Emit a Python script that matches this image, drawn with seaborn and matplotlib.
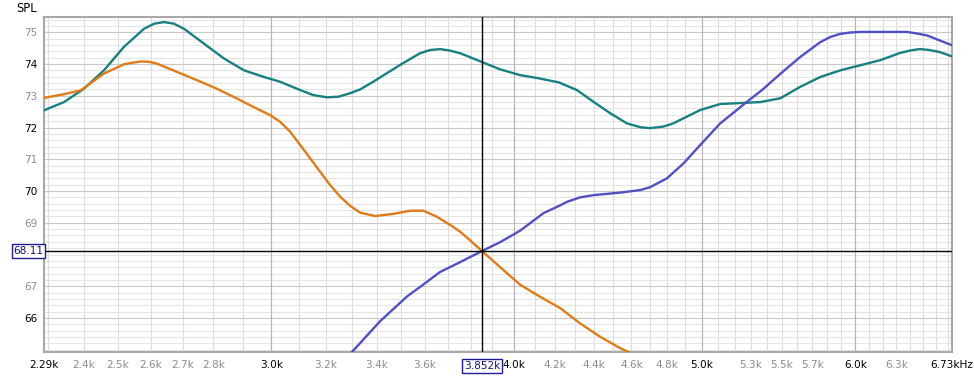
import numpy as np
import pandas as pd
import matplotlib
matplotlib.use("Agg")
import matplotlib.pyplot as plt
from matplotlib.ticker import NullFormatter
import seaborn as sns

# 주파수(kHz) / SPL(dB) -- 그림에서 읽은 값
teal_khz = [2.29, 2.345, 2.401, 2.459, 2.518, 2.579, 2.61, 2.641, 2.672, 2.704, 2.769, 2.836,
            2.904, 2.974, 3.031, 3.104, 3.153, 3.204, 3.248, 3.294, 3.333, 3.385, 3.495, 3.579,
            3.622, 3.665, 3.709, 3.753, 3.849, 3.936, 4.03, 4.12, 4.22, 4.311, 4.397, 4.485,
            4.575, 4.648, 4.703, 4.778, 4.834, 4.991, 5.111, 5.276, 5.36, 5.489, 5.62, 5.756,
            5.894, 6.036, 6.18, 6.329, 6.41, 6.48, 6.55, 6.63, 6.73]
teal_db = [72.54, 72.80, 73.22, 73.80, 74.54, 75.11, 75.27, 75.32, 75.27, 75.11, 74.64, 74.17,
           73.80, 73.59, 73.44, 73.18, 73.02, 72.95, 72.97, 73.08, 73.20, 73.44, 73.97, 74.34,
           74.44, 74.47, 74.42, 74.34, 74.07, 73.83, 73.65, 73.55, 73.42, 73.18, 72.81, 72.45,
           72.13, 72.01, 71.98, 72.03, 72.13, 72.55, 72.74, 72.78, 72.80, 72.92, 73.28, 73.59,
           73.80, 73.96, 74.12, 74.35, 74.43, 74.47, 74.44, 74.38, 74.24]

orange_khz = [2.29, 2.345, 2.392, 2.459, 2.518, 2.543, 2.569, 2.594, 2.619, 2.682, 2.746, 2.812,
              2.88, 2.949, 2.995, 3.031, 3.067, 3.104, 3.141, 3.178, 3.216, 3.255, 3.294, 3.333,
              3.393, 3.467, 3.537, 3.593, 3.651, 3.709, 3.753, 3.789, 3.852, 3.936, 4.03, 4.127,
              4.227, 4.328, 4.432, 4.539, 4.65]
orange_db = [72.93, 73.05, 73.17, 73.70, 73.99, 74.04, 74.08, 74.07, 74.01, 73.75, 73.49, 73.22,
             72.91, 72.59, 72.39, 72.18, 71.87, 71.45, 71.03, 70.61, 70.19, 69.82, 69.53, 69.32,
             69.21, 69.28, 69.38, 69.38, 69.19, 68.93, 68.72, 68.50, 68.11, 67.60, 67.05, 66.67,
             66.31, 65.83, 65.41, 65.05, 64.75]

blue_khz = [3.26, 3.301, 3.413, 3.524, 3.579, 3.665, 3.753, 3.852, 3.936, 4.03, 4.143, 4.227,
            4.261, 4.328, 4.397, 4.539, 4.593, 4.648, 4.703, 4.798, 4.893, 5.0, 5.111, 5.276,
            5.371, 5.489, 5.62, 5.756, 5.824, 5.894, 5.964, 6.036, 6.18, 6.38, 6.456, 6.533, 6.73]
blue_db = [64.60, 64.93, 65.90, 66.68, 66.98, 67.45, 67.76, 68.11, 68.39, 68.75, 69.30, 69.55,
           69.66, 69.80, 69.87, 69.95, 69.99, 70.03, 70.12, 70.40, 70.87, 71.50, 72.13, 72.81,
           73.18, 73.69, 74.22, 74.69, 74.85, 74.95, 74.99, 75.01, 75.01, 75.01, 74.96, 74.90,
           74.59]

cursor_khz = 3.852
cursor_db = 68.11

xtick_khz = [2.29, 2.4, 2.5, 2.6, 2.7, 2.8, 3.0, 3.2, 3.4, 3.6, 4.0, 4.2, 4.4, 4.6, 4.8,
             5.0, 5.3, 5.5, 5.7, 6.0, 6.3, 6.73]
xtick_labels = ["2.29k", "2.4k", "2.5k", "2.6k", "2.7k", "2.8k", "3.0k", "3.2k", "3.4k", "3.6k",
                "4.0k", "4.2k", "4.4k", "4.6k", "4.8k", "5.0k", "5.3k", "5.5k", "5.7k", "6.0k",
                "6.3k", "6.73kHz"]
xtick_dark = ["2.29k", "3.0k", "4.0k", "5.0k", "6.0k", "6.73kHz"]
ytick_db = [66, 67, 69, 70, 71, 72, 73, 74, 75]

df = pd.concat([
    pd.DataFrame({"freq": teal_khz, "spl": teal_db, "trace": "teal"}),
    pd.DataFrame({"freq": orange_khz, "spl": orange_db, "trace": "orange"}),
    pd.DataFrame({"freq": blue_khz, "spl": blue_db, "trace": "blue"}),
])
palette = {"teal": "#178080", "orange": "#e07b16", "blue": "#5050c4"}

sns.set_style("white")
plt.rcParams['font.family'] = ['DejaVu Sans']

fig = plt.figure(figsize=(9.74, 3.76), dpi=100)
ax = fig.add_axes([44/974, 1 - 352/376, (952 - 44)/974, (352 - 17)/376])

sns.lineplot(data=df, x="freq", y="spl", hue="trace", palette=palette, estimator=None,
             linewidth=1.7, legend=False, ax=ax, zorder=3, solid_joinstyle='round')

ax.set_xscale('log')
ax.set_xlim(2.29, 6.73)
ax.set_ylim(64.93, 75.48)

# 눈금 / 격자
ax.xaxis.remove_overlapping_locs = False
ax.set_xticks(xtick_khz, xtick_labels)
ax.set_xticks(np.arange(23, 68) / 10, minor=True)
ax.xaxis.set_minor_formatter(NullFormatter())
ax.set_yticks(ytick_db, [str(v) for v in ytick_db])
ax.set_yticks(np.arange(65.0, 75.5, 0.2), minor=True)
ax.tick_params(which='both', length=0)
ax.tick_params(axis='x', pad=6, labelsize=7.6)
ax.tick_params(axis='y', pad=5, labelsize=7.6)

ax.grid(which='minor', axis='x', color='#dcdcdc', linewidth=0.8)
ax.grid(which='minor', axis='y', color='#e5e5e5', linewidth=0.8)
ax.grid(which='major', axis='y', color='#c8c8c8', linewidth=0.8)
ax.grid(which='major', axis='x', visible=False)
for f in [3.0, 4.0, 5.0, 6.0]:
    ax.axvline(f, color='#b4b4b4', linewidth=0.8, zorder=1)
ax.set_axisbelow(True)

for lab in ax.get_xticklabels():
    lab.set_color('black' if lab.get_text() in xtick_dark else '#8c8c8c')
for lab in ax.get_yticklabels():
    lab.set_color('black' if int(lab.get_text()) % 2 == 0 else '#8c8c8c')

for sp in ax.spines.values():
    sp.set_color('#a8a8a8')
    sp.set_linewidth(1.5)

ax.set_xlabel("")
ax.set_ylabel("")
fig.text(27/974, 1 - 8/376, "SPL", ha='center', va='center', fontsize=8.3, color='black')

# 커서
ax.axvline(cursor_khz, color='black', linewidth=1, zorder=4)
ax.axhline(cursor_db, color='black', linewidth=1, zorder=4)
box = dict(boxstyle='square,pad=0.15', facecolor='white', edgecolor='#1c1c9c', linewidth=1)
ax.text(-0.001, cursor_db, f"{cursor_db:.2f}", transform=ax.get_yaxis_transform(),
        ha='right', va='center', fontsize=7.6, color='#101070', bbox=box, zorder=6, clip_on=False)
ax.text(cursor_khz, -14/335, f"{cursor_khz:.3f}k", transform=ax.get_xaxis_transform(),
        ha='center', va='center', fontsize=7.6, color='#101070', bbox=box, zorder=6, clip_on=False)

fig.savefig("out.png", dpi=100)
